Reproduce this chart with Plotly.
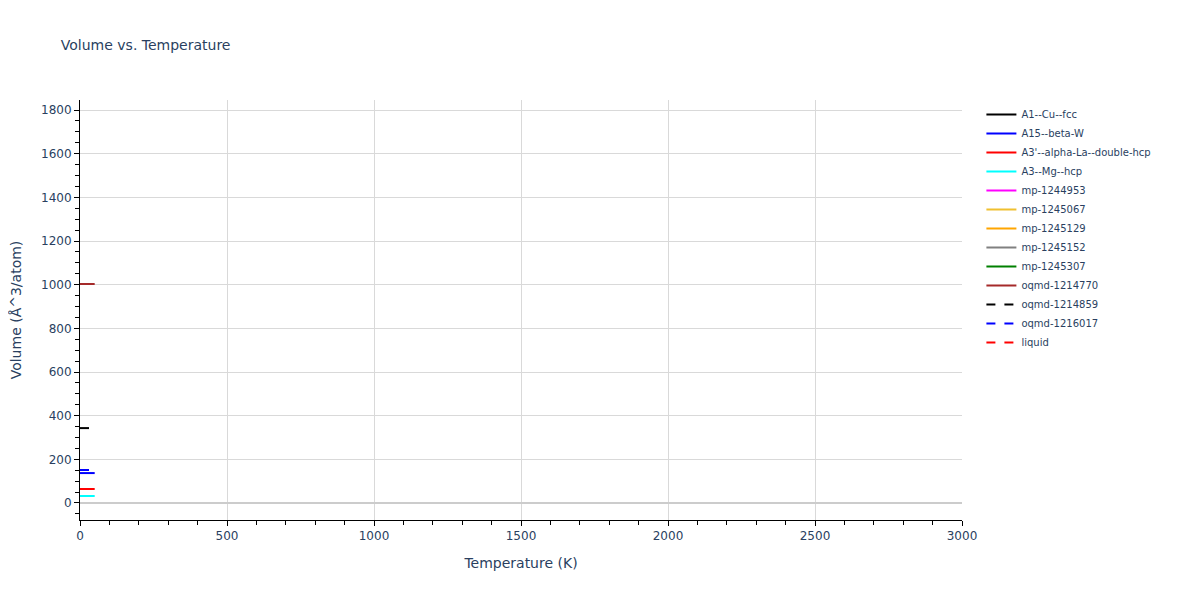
import plotly.graph_objects as go

names = ["A1--Cu--fcc", "A15--beta-W", "A3'--alpha-La--double-hcp", "A3--Mg--hcp",
         "mp-1244953", "mp-1245067", "mp-1245129", "mp-1245152", "mp-1245307",
         "oqmd-1214770", "oqmd-1214859", "oqmd-1216017", "liquid"]
colors = ["black", "blue", "red", "cyan", "magenta", "#f0c030", "orange", "gray", "green",
          "brown", "black", "blue", "red"]
dashes = ["solid"] * 10 + ["dash", "dash", "dash"]

# Traces not visible in the reference carry no values (None)
temperatures = [0, 50]
volumes = {
    "A1--Cu--fcc": [None, None],
    "A15--beta-W": [137, 137],
    "A3'--alpha-La--double-hcp": [64, 64],
    "A3--Mg--hcp": [32, 32],
    "mp-1244953": [None, None],
    "mp-1245067": [None, None],
    "mp-1245129": [None, None],
    "mp-1245152": [None, None],
    "mp-1245307": [None, None],
    "oqmd-1214770": [1003, 1003],
    "oqmd-1214859": [343, 343],
    "oqmd-1216017": [151, 151],
    "liquid": [None, None],
}

fig = go.Figure()
for n, c, d in zip(names, colors, dashes):
    fig.add_trace(go.Scatter(x=temperatures, y=volumes[n], mode="lines", name=n,
                             line=dict(color=c, dash=d, width=2)))

fig.update_layout(
    width=1200, height=600,
    font=dict(family="DejaVu Sans", size=12, color="#2a3f5f"),
    title=dict(text="Volume vs. Temperature", x=0.044, y=0.947, font=dict(size=14)),
    plot_bgcolor="white", paper_bgcolor="white",
    margin=dict(l=72, r=246, t=92, b=88),
    legend=dict(x=1.022, y=1, font=dict(size=10)),
    xaxis=dict(title=dict(text="Temperature (K)", font=dict(size=14)), range=[0, 3000],
               showgrid=True, gridcolor="#d9d9d9",
               showline=True, linecolor="black", ticks="outside", tickcolor="black",
               dtick=500, minor=dict(dtick=100, ticks="outside", tickcolor="black", ticklen=4),
               zeroline=False, automargin=False),
    yaxis=dict(title=dict(text="Volume (Å^3/atom)", font=dict(size=14), standoff=20),
               range=[-78, 1846],
               showgrid=True, gridcolor="#d9d9d9",
               showline=True, linecolor="black", ticks="outside", tickcolor="black",
               dtick=200, minor=dict(dtick=50, ticks="outside", tickcolor="black", ticklen=4),
               zeroline=True, zerolinecolor="#cccccc", zerolinewidth=2, automargin=False),
)
fig.write_html("out.html")
